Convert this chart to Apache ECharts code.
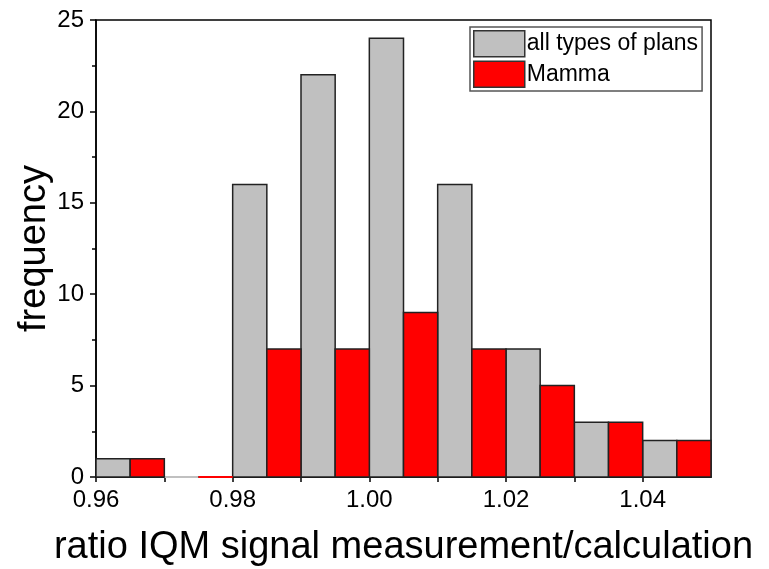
<!DOCTYPE html>
<html>
<head>
<meta charset="utf-8">
<script src="https://cdn.jsdelivr.net/npm/echarts@6/dist/echarts.min.js"></script>
<style>html,body{margin:0;padding:0;background:#fff}#chart{width:769px;height:569px}</style>
</head>
<body>
<div id="chart"></div>
<script>
var binWidth = 0.005;
var allStarts = [0.96, 0.97, 0.98, 0.99, 1.00, 1.01, 1.02, 1.03, 1.04];
var allValues = [1, 0, 16, 22, 24, 16, 7, 3, 2];
var mammaStarts = [0.965, 0.975, 0.985, 0.995, 1.005, 1.015, 1.025, 1.035, 1.045];
var mammaValues = [1, 0, 7, 7, 9, 7, 5, 3, 2];
var xTickLabels = ['0.96', '0.98', '1.00', '1.02', '1.04'];
var yTickLabels = ['0', '5', '10', '15', '20', '25'];

var FONT = 'Liberation Sans, Arial, sans-serif';

function makeData(starts, values) {
  return starts.map(function (s, i) { return [s, s + binWidth, values[i]]; });
}

function renderBar(fill) {
  return function (params, api) {
    var p0 = api.coord([api.value(0), 0]);
    var p1 = api.coord([api.value(1), api.value(2)]);
    var h = p0[1] - p1[1];
    return {
      type: 'rect',
      shape: { x: p0[0], y: p1[1], width: p1[0] - p0[0], height: h },
      style: { fill: fill, stroke: h === 0 ? fill : '#222', lineWidth: h === 0 ? 2 : 1.5 }
    };
  };
}

var chart = echarts.init(document.getElementById('chart'));
chart.setOption({
  animation: false,
  backgroundColor: '#fff',
  grid: { left: 96, right: 58, top: 20, bottom: 92, containLabel: false, outerBoundsMode: 'none', show: true, borderColor: '#000', borderWidth: 1.5, backgroundColor: 'transparent' },
  legend: {
    orient: 'vertical',
    left: 470, top: 27,
    itemWidth: 51, itemHeight: 26, itemGap: 3,
    padding: [3, 4, 3, 3],
    borderColor: '#555', borderWidth: 1.5, backgroundColor: '#fff',
    textStyle: { fontFamily: FONT, fontSize: 23, color: '#000', padding: [0, 0, 0, -3] },
    data: [
      { name: 'all types of plans', icon: 'rect', itemStyle: { color: '#C0C0C0', borderColor: '#333', borderWidth: 1.5 } },
      { name: 'Mamma', icon: 'rect', itemStyle: { color: '#FF0000', borderColor: '#333', borderWidth: 1.5 } }
    ]
  },
  xAxis: {
    type: 'value', min: 0.96, max: 1.05, interval: 0.01,
    name: 'ratio IQM signal measurement/calculation', nameLocation: 'middle', nameGap: 52,
    nameMoveOverlap: false,
    nameTextStyle: { fontFamily: FONT, fontSize: 38, color: '#000' },
    axisLine: { show: true, onZero: false, lineStyle: { color: '#000', width: 1.5 } },
    axisTick: { show: true, inside: false, length: 5, lineStyle: { color: '#000', width: 1.5 } },
    splitLine: { show: false },
    axisLabel: {
      fontFamily: FONT, fontSize: 24, color: '#000', margin: 11,
      showMaxLabel: false,
      formatter: function (v) {
        for (var i = 0; i < xTickLabels.length; i++) {
          if (Math.abs(parseFloat(xTickLabels[i]) - v) < 1e-6) return xTickLabels[i];
        }
        return '';
      }
    }
  },
  yAxis: {
    type: 'value', min: 0, max: 25, interval: 5,
    name: 'frequency', nameLocation: 'middle', nameGap: 42,
    nameMoveOverlap: false,
    nameTextStyle: { fontFamily: FONT, fontSize: 38, color: '#000' },
    axisLine: { show: true, lineStyle: { color: '#000', width: 1.5 } },
    axisTick: { show: true, inside: false, length: 6, lineStyle: { color: '#000', width: 1.5 } },
    minorTick: { show: true, splitNumber: 2, length: 4, lineStyle: { color: '#000', width: 1.5 } },
    splitLine: { show: false },
    axisLabel: {
      fontFamily: FONT, fontSize: 24, color: '#000', margin: 12,
      formatter: function (v) { return yTickLabels[Math.round(v / 5)]; }
    }
  },
  series: [
    {
      name: 'all types of plans', type: 'custom', itemStyle: { color: '#C0C0C0' },
      renderItem: renderBar('#C0C0C0'), encode: { x: [0, 1], y: 2 },
      data: makeData(allStarts, allValues)
    },
    {
      name: 'Mamma', type: 'custom', itemStyle: { color: '#FF0000' },
      renderItem: renderBar('#FF0000'), encode: { x: [0, 1], y: 2 },
      data: makeData(mammaStarts, mammaValues)
    }
  ]
});
</script>
</body>
</html>
